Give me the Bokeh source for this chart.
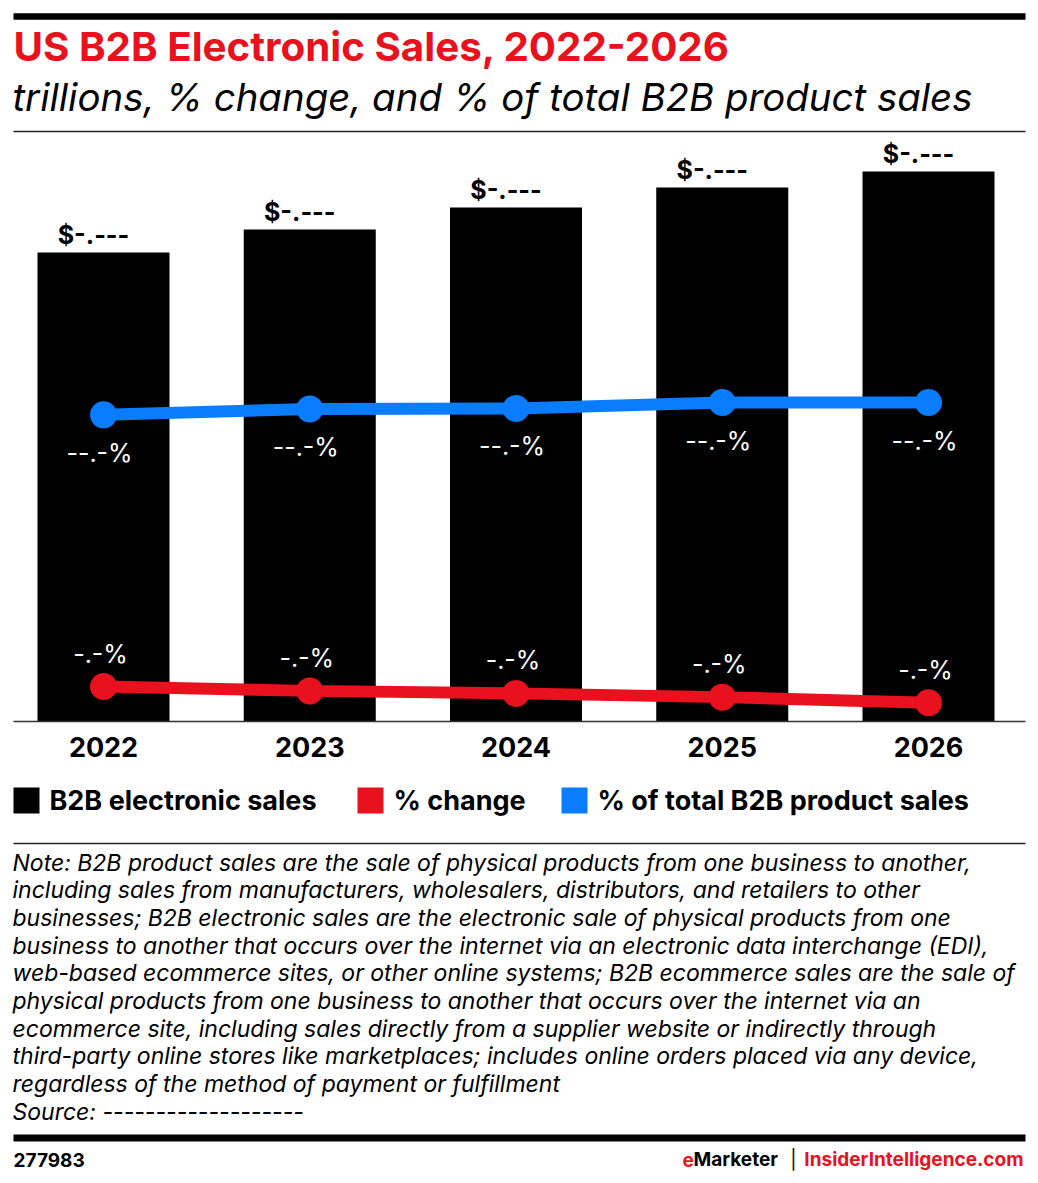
from bokeh.plotting import figure
from bokeh.layouts import column
from bokeh.models import Range1d, FixedTicker
from bokeh.core.properties import value
from bokeh.embed import file_html
from bokeh.resources import INLINE

# ---------------- data ----------------
years = ["2022", "2023", "2024", "2025", "2026"]
sales_trillions = [9.38, 9.84, 10.28, 10.68, 11.00]
pct_change = [5.6, 4.9, 4.5, 3.9, 3.0]
pct_of_total = [57.5, 58.6, 58.7, 59.8, 59.8]
sales_labels = ["$-.---", "$-.---", "$-.---", "$-.---", "$-.---"]
change_labels = ["-.-%", "-.-%", "-.-%", "-.-%", "-.-%"]
share_labels = ["--.-%", "--.-%", "--.-%", "--.-%", "--.-%"]
series_names = ["B2B electronic sales", "% change", "% of total B2B product sales"]

title_text = "US B2B Electronic Sales, 2022-2026"
subtitle_text = "trillions, % change, and % of total B2B product sales"
note_lines = [
    "Note: B2B product sales are the sale of physical products from one business to another,",
    "including sales from manufacturers, wholesalers, distributors, and retailers to other",
    "businesses; B2B electronic sales are the electronic sale of physical products from one",
    "business to another that occurs over the internet via an electronic data interchange (EDI),",
    "web-based ecommerce sites, or other online systems; B2B ecommerce sales are the sale of",
    "physical products from one business to another that occurs over the internet via an",
    "ecommerce site, including sales directly from a supplier website or indirectly through",
    "third-party online stores like marketplaces; includes online orders placed via any device,",
    "regardless of the method of payment or fulfillment",
]
source_line = "Source: -------------------"
chart_id = "277983"

# ---------------- style ----------------
FONT = "Inter"
RED = "#e8111d"
BLUE = "#0a7cff"
BLACK = "#000000"
series_colors = [BLACK, RED, BLUE]
W = 1038


def blank(h):
    f = figure(width=W, height=h, x_range=Range1d(0, W), y_range=Range1d(h, 0),
               output_backend="svg", toolbar_location=None,
               x_axis_location=None, y_axis_location=None,
               min_border_left=0, min_border_right=0, min_border_top=0, min_border_bottom=0,
               outline_line_color=None)
    f.grid.visible = False
    return f


def txt(f, x, y, s, size, color="black", style="normal", align="left"):
    f.text(x=[x], y=[y], text=[s], text_font=value(FONT), text_font_size=size,
           text_font_style=style, text_color=color, text_align=align,
           text_baseline="middle")


# ---------------- header ----------------
hdr = blank(138)
hdr.quad(left=[13], right=[1025], top=[12.7], bottom=[19.3], color=BLACK, line_color=None)
txt(hdr, 13, 46, title_text, "40.3px", RED, "bold")
txt(hdr, 12, 96, subtitle_text, "38.4px", BLACK, "italic")
hdr.segment(x0=[13], y0=[131], x1=[1025], y1=[131], line_color="#222222", line_width=1.5)

# ---------------- main chart ----------------
xs = list(range(len(years)))
p = figure(width=W, height=637, x_range=Range1d(-0.4994, 4.5333), y_range=Range1d(0, 11.62),
           output_backend="svg", toolbar_location=None, y_axis_location=None,
           min_border_left=0, min_border_right=0, min_border_top=2, min_border_bottom=54,
           outline_line_color=None)
p.grid.visible = False
p.extra_y_ranges = {"chg": Range1d(0, 92.96), "share": Range1d(0, 108.94)}

p.vbar(x=xs, top=sales_trillions, bottom=0, width=0.64, fill_color=BLACK, line_color=None)

p.line(xs, pct_of_total, y_range_name="share", line_color=BLUE, line_width=12)
p.scatter(xs, pct_of_total, y_range_name="share", size=27, fill_color=BLUE, line_color=None)
p.line(xs, pct_change, y_range_name="chg", line_color=RED, line_width=12)
p.scatter(xs, pct_change, y_range_name="chg", size=27, fill_color=RED, line_color=None)

p.text(x=xs, y=sales_trillions, text=sales_labels, text_font=value(FONT), text_font_size="25px",
       text_font_style="bold", text_color=BLACK, text_align="center", text_baseline="middle",
       x_offset=-10, y_offset=-18)
p.text(x=xs, y=pct_of_total, y_range_name="share", text=share_labels, text_font=value(FONT),
       text_font_size="25px", text_color="white", text_align="center", text_baseline="middle",
       x_offset=-4, y_offset=38)
p.text(x=xs, y=pct_change, y_range_name="chg", text=change_labels, text_font=value(FONT),
       text_font_size="25px", text_color="white", text_align="center", text_baseline="middle",
       x_offset=-3, y_offset=-33)

p.xaxis.ticker = FixedTicker(ticks=xs)
p.xaxis.major_label_overrides = {i: y for i, y in zip(xs, years)}
p.xaxis.bounds = (-0.4364, 4.4703)
p.xaxis.major_tick_line_color = None
p.xaxis.minor_tick_line_color = None
p.xaxis.axis_line_color = "#333333"
p.xaxis.axis_line_width = 1.5
p.xaxis.major_label_text_font = FONT
p.xaxis.major_label_text_font_size = "27px"
p.xaxis.major_label_text_font_style = "bold"
p.xaxis.major_label_text_color = BLACK
p.xaxis.major_label_standoff = 9

# ---------------- legend ----------------
leg = blank(63)
sq_left = [13, 357, 561]
tx_left = [49, 393, 597]
for name, col, sl, tl in zip(series_names, series_colors, sq_left, tx_left):
    leg.quad(left=[sl], right=[sl + 26], top=[12], bottom=[38], fill_color=col, line_color=None)
    txt(leg, tl, 25, name, "27px", BLACK, "bold")

# ---------------- notes + footer ----------------
nt = blank(345)
nt.segment(x0=[13], y0=[5], x1=[1025], y1=[5], line_color="#222222", line_width=1.5)
for k, line in enumerate(note_lines + [source_line]):
    txt(nt, 12, 24 + 27.7 * k, line, "23px", BLACK, "italic")
nt.quad(left=[13], right=[1025], top=[296], bottom=[303], color=BLACK, line_color=None)
txt(nt, 13, 321, chart_id, "19px", BLACK, "bold")
txt(nt, 1023, 321, "InsiderIntelligence.com", "19px", RED, "bold", align="right")
txt(nt, 793, 321, "|", "19px", BLACK, "normal", align="center")
txt(nt, 682, 321, "e", "19px", RED, "bold")
txt(nt, 693, 321, "Marketer", "19px", BLACK, "bold")

layout = column(hdr, p, leg, nt, spacing=0)
open("out.html", "w").write(file_html(layout, INLINE))
